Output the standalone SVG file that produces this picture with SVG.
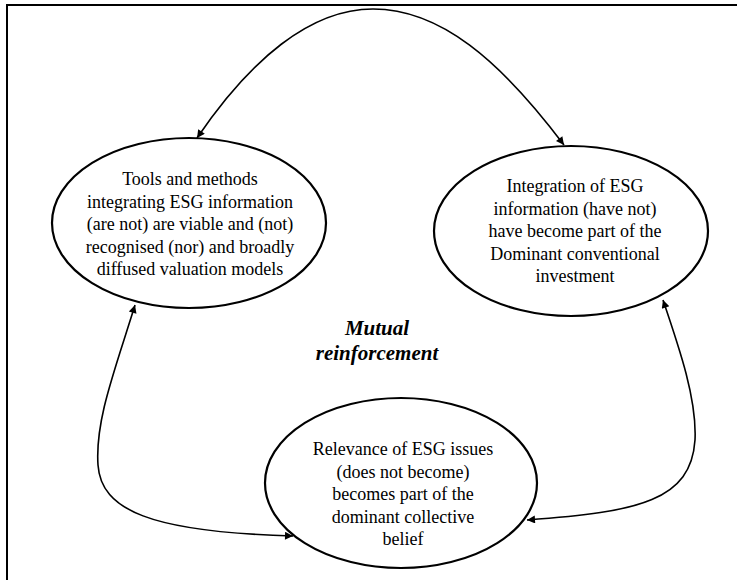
<svg xmlns="http://www.w3.org/2000/svg" width="737" height="580" viewBox="0 0 737 580">
<style>
.node{fill:#fff;stroke:#000;stroke-width:2.2}
.t{font-family:"Liberation Serif","Times New Roman",serif;font-size:18px;fill:#000;text-anchor:middle}
.c{fill:none;stroke:#000;stroke-width:1.6}
.m{font-family:"Liberation Serif","Times New Roman",serif;font-size:21px;font-weight:bold;font-style:italic;fill:#000;text-anchor:middle}
</style>
<defs>
<marker id="ah" viewBox="0 0 10 10" refX="10" refY="5" markerWidth="11" markerHeight="8" markerUnits="userSpaceOnUse" orient="auto-start-reverse">
<path d="M0,0 L10,5 L0,10 z" fill="#000"/>
</marker>
</defs>
<rect x="0" y="0" width="737" height="580" fill="#fff"/>
<rect x="7" y="5" width="745" height="600" fill="none" stroke="#000" stroke-width="2"/>
<g id="connectors">
<path class="c" d="M197,138 C250,60 310,9 373,9 C440,9 500,60 564,145" marker-start="url(#ah)" marker-end="url(#ah)"/>
<path class="c" d="M135,305 C115,370 95,420 98,465 C101,510 150,532 293,536" marker-start="url(#ah)" marker-end="url(#ah)"/>
<path class="c" d="M663,300 C680,350 697,400 695,440 C691,500 640,512 527,520" marker-start="url(#ah)" marker-end="url(#ah)"/>
</g>
<g id="node-tools">
<ellipse class="node" cx="189" cy="223" rx="137" ry="85"/>
<text class="t" x="190" y="185">Tools and methods</text>
<text class="t" x="190" y="207.5">integrating ESG information</text>
<text class="t" x="190" y="230">(are not) are viable and (not)</text>
<text class="t" x="190" y="252.5">recognised (nor) and broadly</text>
<text class="t" x="190" y="275">diffused valuation models</text>
</g>
<g id="node-integration">
<ellipse class="node" cx="571" cy="231" rx="137" ry="85"/>
<text class="t" x="575" y="192">Integration of ESG</text>
<text class="t" x="575" y="214.5">information (have not)</text>
<text class="t" x="575" y="237">have become part of the</text>
<text class="t" x="575" y="259.5">Dominant conventional</text>
<text class="t" x="575" y="282">investment</text>
</g>
<g id="node-relevance">
<ellipse class="node" cx="401" cy="483" rx="136" ry="85"/>
<text class="t" x="403" y="455">Relevance of ESG issues</text>
<text class="t" x="403" y="477.5">(does not become)</text>
<text class="t" x="403" y="500">becomes part of the</text>
<text class="t" x="403" y="522.5">dominant collective</text>
<text class="t" x="403" y="545">belief</text>
</g>
<g id="label">
<text class="m" x="377" y="335">Mutual</text>
<text class="m" x="377" y="360">reinforcement</text>
</g>
</svg>
